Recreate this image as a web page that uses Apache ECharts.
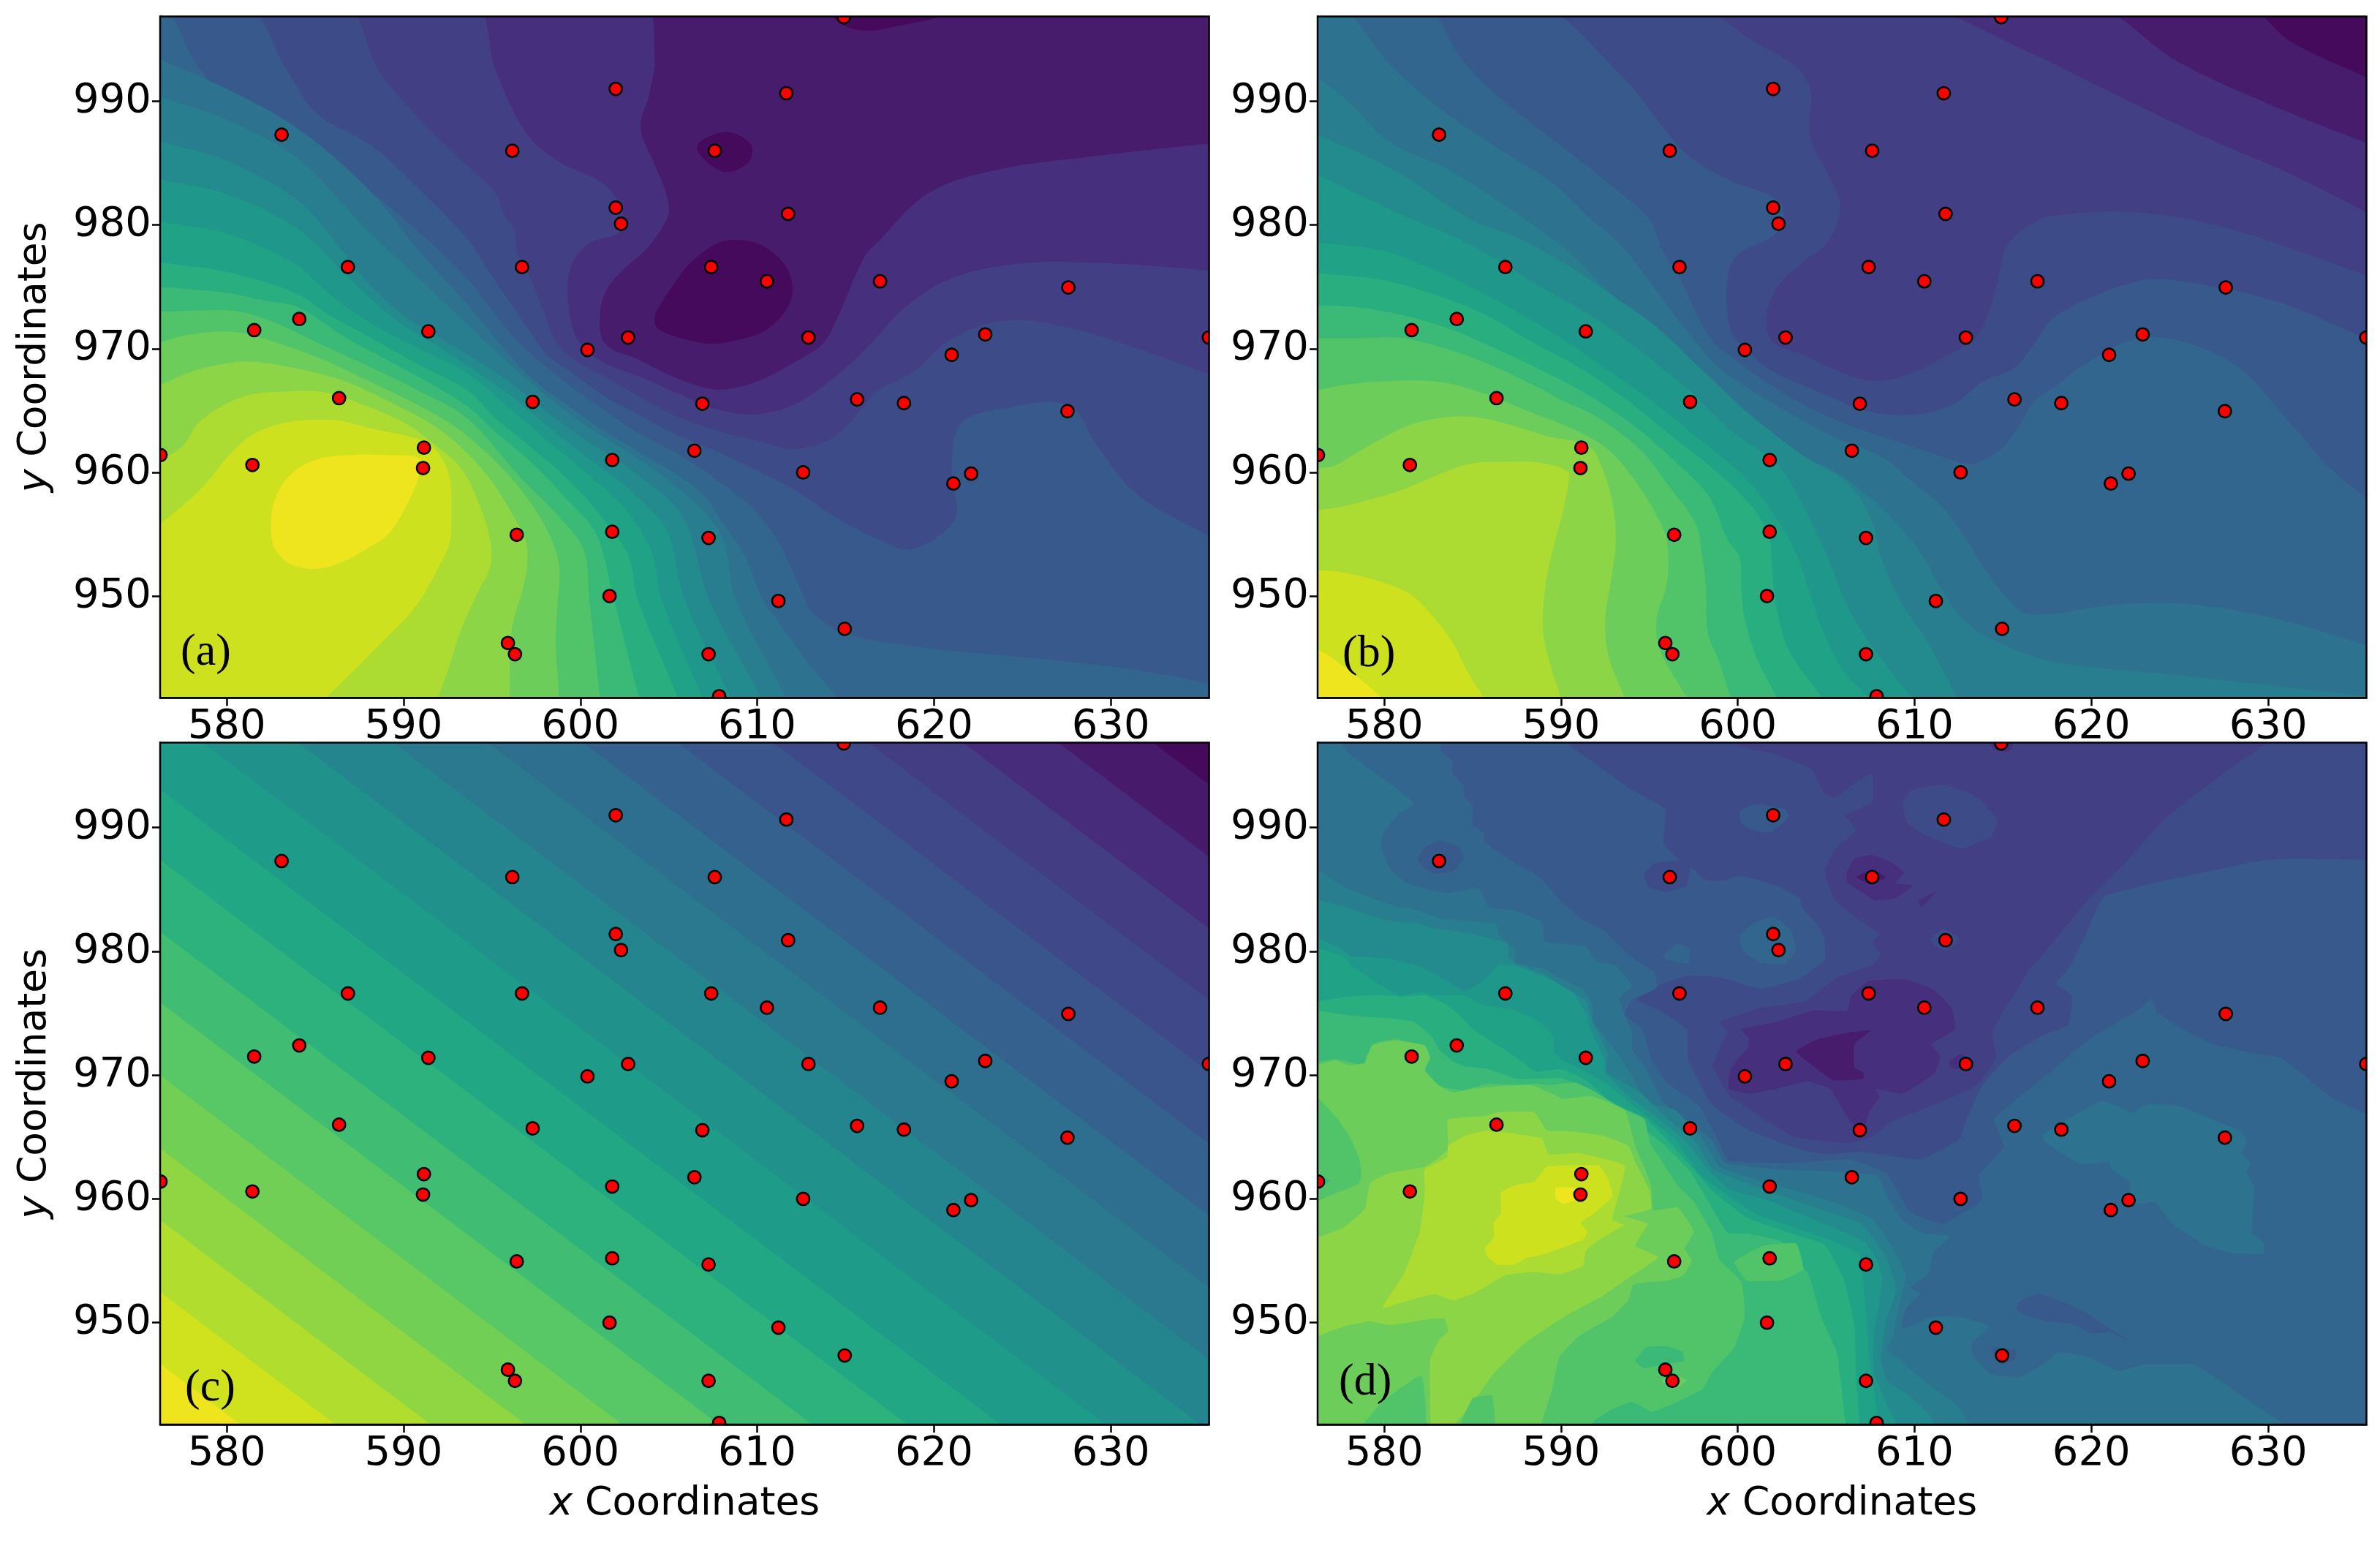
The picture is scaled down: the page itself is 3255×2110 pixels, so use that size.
<!DOCTYPE html>
<html><head><meta charset="utf-8"><style>html,body{margin:0;padding:0;background:#fff}#c{width:3255px;height:2110px}</style>
<script src="https://cdn.jsdelivr.net/npm/echarts@6/dist/echarts.min.js"></script></head>
<body><div id="c"></div><script>
const xTicks=[580,590,600,610,620,630];
const yTicks=[950,960,970,980,990];
const xRange=[576.23,635.56];
const yRange=[941.77,996.86];
const stationX=[614.9,602,611.65,583.1,596.15,607.6,602,611.75,602.3,586.85,596.7,607.4,610.55,616.95,627.6,584.1,581.55,591.4,622.9,612.9,602.7,635.55,600.4,621,586.35,597.3,606.9,615.65,618.3,627.55,591.15,606.45,576.25,601.8,581.45,591.1,612.6,622.1,621.1,596.4,601.8,607.25,601.65,611.2,614.95,595.9,596.3,607.25,607.85];
const stationY=[996.8,991,990.65,987.3,986,986,981.4,980.9,980.1,976.6,976.6,976.6,975.45,975.45,974.95,972.4,971.5,971.4,971.15,970.9,970.9,970.9,969.9,969.5,966,965.7,965.55,965.9,965.6,964.95,962,961.75,961.4,961,960.6,960.35,960,959.9,959.1,954.95,955.2,954.7,950,949.6,947.35,946.2,945.3,945.3,941.9];

// Contour regions: [band index, closing corners, x,y,x,y...]
const panelA=[
[1,'TL TR BR BL',[]],
[2,'BR BL TL',[603.4,998,604.2,993.6,603.9,990.6,603.4,987.9,604.2,984.9,604.8,982.8,605,981.1,604.6,979.7,603.7,978,602.5,976.5,601.5,974.8,601.1,972.7,601.4,970.4,603.3,969.1,605.5,967.6,607.7,966.7,609.9,967.3,612.1,968.9,613.7,970.4,614.6,972.7,615.4,975.4,616.1,977.5,616.8,978.6,619.7,982.6,623.7,984.5,629.3,985.6,635.6,986.6,637,986.9]],
[3,'BR BL TL',[593.8,998,595.2,992.5,596.9,987.5,598.7,985.2,600.9,983.7,601.7,982.8,602.4,981,602.2,979.4,600.6,978.6,599.7,977.3,599.3,975.6,599.3,974,599.5,972,600,970.4,601.3,968.9,603.25,967.8,605.5,966.4,607.7,965.1,609.9,964.7,612.1,965.5,614.3,967.6,615.8,969.5,616.8,971,618.4,973.4,621,975.7,625,976.9,629.8,976.9,635.6,976.3,637,976]],
[4,'BR BL TL',[586.5,998,588.6,992.5,590.8,988.7,593,985.6,595.2,982.6,595.6,981.1,596.3,979.4,596.4,978,597.2,975.6,597.9,973.1,598.7,970.4,599.85,968.9,601.3,967.8,603.25,966.2,605.5,964.5,607.7,963.4,609.9,962.6,612.1,961.9,614,962.6,615.1,963.8,616,965.3,616.8,966.6,618.8,968.1,621,970.8,624.1,972.3,627.6,971.7,631.1,970.2,635.6,967.9,637,967]],
[5,'BR BL TL',[581,998,583.4,992.5,585.1,989,588.2,986.4,590.8,983,593.65,978.8,594.7,976.5,595.7,974.4,597.05,971.6,598.1,969.5,599.6,968,601.3,966.2,603.25,964.7,605.5,963,607.7,961.7,609.9,960.2,612.1,958.6,614.3,956.5,616.8,954.6,618.8,953.8,621.2,956.3,621,960.1,621.5,963.9,624.1,965.2,627.6,965.4,629.3,962,631.5,958.2,635.6,954.8,637,953.6]],
[6,'BR BL TL',[576.3,998,578.2,993.2,580.3,989.8,583.8,986.4,587.8,983,590.8,979.5,593.65,975.6,595.1,972.9,596.6,970.4,598.1,968.5,599.6,966.8,601.3,965.1,603.25,963.2,605.5,961.5,607.7,959.4,609.6,957.3,611.1,954.6,612,952,612.7,949.7,613.1,948.7,614.9,947,619.7,945.8,626.3,944.9,632,943.9,635.6,942.9,637,942.5]],
[7,'BL',[575.2,994.1,576.2,993.4,580,991,584,987.8,588,982.9,591,977.7,593.65,973.5,595.1,971,596.6,968.5,598.1,966.6,599.6,965.1,601.3,963.4,603.25,961.7,605.5,959.8,607,958.1,608.1,955.8,609.3,953.3,610.3,949.7,611.2,947.9,612.7,944.9,614.5,941.8,615.5,940]],
[8,'BL',[575.2,991,576.2,990.4,580,988.5,584,985.4,588,979.5,591,975.5,593.65,971.9,595.9,968.9,598.1,966.2,600.3,963.8,603.25,961.1,606.2,957.9,608,954.8,608.8,949.7,611.6,941.8,612,940]],
[9,'BL',[575.2,987.4,576.2,986.8,580,985.2,584,982,586.5,978,588.2,975,590.3,972.4,593.2,969.9,595.9,967.4,598.1,964.9,600.3,962.6,603.25,959.8,605.8,956.4,607.3,949.7,610.2,941.8,610.6,940]],
[10,'BL',[575.2,984.2,576.2,983.7,580,982.5,584,979.7,587,975.6,589.5,972.4,592.5,969.7,595.9,966.4,598.1,963.8,600.3,961.3,602.8,958.6,604.9,955.2,605.9,949.7,608.5,941.8,609,940]],
[11,'BL',[575.2,980.7,576.2,980.3,580,979.3,583.8,976.9,585.7,974.55,588,972.2,591,969.9,593.65,968,595.9,965.3,598.1,962.6,600.3,960,602.5,957.1,604,953.7,604.6,949.7,606.9,941.8,607.3,940]],
[12,'BL',[575.2,977.3,576.2,977,580,976.2,583.8,974.55,585.8,972.7,588,971,591,968.6,593.65,966.6,595.1,964.5,597.3,961.9,599.6,959,601.3,956.2,602.7,953.3,603.25,949.7,605.5,941.8,605.9,940]],
[13,'BL',[575.2,975.2,576.2,975,579.8,974.55,582.1,973.9,584.1,973.3,586.6,971,588.8,969.3,591,967.6,593.65,965.3,595.1,963.4,597.3,960.7,599.3,957.7,600.9,955,601.9,949.7,603.3,941.8,603.6,940]],
[14,'BL',[575.2,973.1,576.2,973,578.4,973.1,580.7,973,582.9,972,585.1,970.5,588,968.6,591,966.5,593.65,964.3,596.6,959.6,598.8,956.4,600.2,953.7,600.5,949.7,601.1,941.8,601.2,940]],
[15,'BL',[575.2,970.2,576.2,970.5,577.7,971.1,579.9,971.4,581.4,971.1,583.6,970.1,585.8,968.9,588,967.4,591,965.3,593.2,963.4,595.4,960.6,596.9,958.1,598.2,955.1,598.8,952.4,598.7,949.2,598.6,946.1,598.8,941.8,598.8,940]],
[16,'BL',[575.3,966.8,576.2,967.05,577.7,968,579.2,968.6,581.1,968.96,583.6,968.5,586.6,967.4,589.5,965.5,591.7,963.8,593.2,962.1,594.7,959.8,596,957,596.9,954.5,597,952.8,596.8,950.9,596.1,947.1,596,941.9,596,940.5]],
[17,'BL',[575.3,960.4,576.2,961,577.5,962.1,578.4,964,579.9,965.5,581.4,966.3,582.9,966.5,585.4,966.5,588,965.3,590.3,963.8,591.7,962.3,593.2,960.4,594.2,957.7,594.9,954.5,594.9,952.4,594.2,950.3,593.2,947.1,592.6,944.4,592,941.9,591.7,940.5]],
[18,'BL',[575.3,954.6,576.2,955.8,577.1,956.8,578.7,958.9,580.2,961.5,581.4,963,582.7,963.8,584.2,964.2,586.3,964.2,588,963.6,591,962.6,591.9,961.7,592.6,959.6,592.7,956.6,592.6,954.3,592,952.4,590.7,949.2,588.8,946.3,587.2,944,585.7,941.9,584.9,940.6]],
[19,'',[582.5,955.6,582.7,957.7,583.6,959.8,585.1,961.05,586.9,961.4,588.8,961.4,591,961.05,590.8,959.4,590.3,957.7,589.2,955.1,588,953.9,586.6,952.8,585.1,952.2,583.6,952.6,582.7,953.9]],
[0,'',[613.9,998,614.7,996.3,616.2,995.7,618,996.1,620.4,996.9,621.5,998]],
[0,'',[606.6,986.4,607.5,987.3,608.5,987.5,609.6,986.6,609.7,985.6,609.2,984.7,608.1,984.3,607,985.3]],
[0,'',[604.2,972.5,604.6,973.75,605.5,975.65,606.2,976.9,607.7,978.5,608.9,978.8,610.2,978.4,611.5,976.9,612,975,611.7,973.3,610.6,971.6,609.2,970.8,607.4,970.4,605.8,970.8,604.4,971.6]]
];

const panelB=[
[0,'TL TR BR BL',[]],
[1,'BR BL TL',[628.3,998,631.3,994.8,635.6,991.9,637,991]],
[2,'BR BL TL',[619.5,998,624.9,993.2,630,989.8,635.6,986.6,637,985.8]],
[3,'BR BL TL',[609.5,998,616.4,994,620.7,991,625.8,987.5,631.3,984.1,635.6,981,637,980]],
[4,'BR BL TL',[596.9,998.5,600.7,995,603.2,992.9,604.1,991,604.1,987.1,605.1,984.1,605.8,981.4,605.1,978.7,603.7,977,602.5,975.5,601.8,973.7,601.6,972,602,970.5,603.7,969.5,606,968,607.8,967.4,609.8,968,611.9,969.5,613.5,971,614.2,973,614.7,975.5,615.2,978.2,616.2,979.7,617.7,980.7,622.8,981,628.3,979.5,635.6,975.9,637,975.2]],
[5,'BR BL TL',[588,998.5,593.4,992.1,596,987.5,597.2,985.6,599.4,983.7,602.4,981.8,602.3,979.5,599.9,977.5,599.4,975.5,599.4,973.2,599.7,971.2,600.6,969.75,601.8,968.3,604.6,966.5,607.2,965,609.8,964.65,612.2,965.5,613.8,967.3,615.7,968.5,616.8,970.5,618,972.7,622.8,975.5,625.8,975.3,630.5,973.8,635.6,970.8,637,970]],
[6,'BR BL TL',[581.8,998.5,584.5,993.2,586.6,990.2,590,986.4,593,983,595,980.45,595.7,978,596.8,975.5,597.6,973,598.5,970.75,599.7,969.25,601.1,967.8,603.7,965.5,606.3,963.8,608.9,962.55,611.5,961.3,613.3,960.7,614.8,961.8,615.7,963.3,616.8,965.8,618,967,619.8,968.9,623.2,970.95,627.9,968.9,631.3,963.9,633.4,960.5,635.6,957.8,637,956]],
[7,'BR BL TL',[577,998.5,580.2,993.2,582.8,989.8,586.2,986.4,589.6,983.3,591.7,980.45,593.3,978.5,594.7,976,596,973.5,597.5,970.75,598.9,968.5,600.6,966.8,602.9,964.8,605.5,962.8,608.1,961.3,609.8,959.3,611.5,957.3,612.9,954.6,614.1,951.9,615.4,949.6,616.2,948.6,618,948.6,620.7,949.2,624.9,949.4,630,948.3,635.6,946,637,945.4]],
[8,'BR BL',[575.2,992.5,576.2,991.9,578.1,989.8,580.2,986.8,583.6,984.5,586.6,981.8,589.6,978.8,590.7,977.5,592.4,975,594.2,972.75,595.9,970,597.6,967.5,599.4,965.5,601.5,963.3,603.7,961.3,605.5,960.05,607.2,958.3,608.9,956,610.3,953.6,611.5,950.6,612.9,947.9,615,946.1,618,944.65,624.9,943.6,631.3,942.6,635.6,941.9,637,941.5]],
[9,'BL',[575.2,987.8,576.2,987.3,580.5,984.5,584.9,980.45,587.5,979,590.1,977,592.7,974.5,595.4,971.75,598,968.25,600.6,964.8,603.5,961.55,606.3,959,607.7,955.6,608.1,953.1,609.3,949.35,610.7,946.4,612.4,941.8,613,940.5]],
[10,'BL',[575.2,984.6,576.2,984.1,578.8,982.3,581.6,980.45,584,979,586.6,977,589.2,974.7,591.9,972.5,594.5,969.8,597.1,966.8,599.7,963.3,602.3,960.55,603.7,957.3,605.1,953.1,606.15,949.35,607.5,946.1,609.8,941.8,610.4,940.5]],
[11,'BL',[575.2,978.9,576.2,978.6,579.7,978,582.3,976.7,584.9,975,587.5,973,590.1,970.75,592.7,968.25,595.4,965.5,598,962.5,600.6,959.3,602.5,955.6,603.4,953.1,604.1,950.1,604.9,946.9,606,943.9,607.4,941.8,608,940.5]],
[12,'BL',[575.2,976.3,576.2,976.1,579.7,975.6,583.2,974.2,585.8,972.7,588.4,970.5,591,968.5,593.6,966,596.2,963,598.8,960.05,600.9,957.05,601.8,954.6,601.9,953.1,602.15,949.35,602.9,945.6,604.75,941.8,605.3,940.5]],
[13,'BL',[575.2,973.5,576.2,973.5,578.5,973.35,581.1,972.7,583.7,971.6,586.3,970,588.9,968.25,591.5,966.3,594.1,963.8,596.7,960.55,598.4,958,599.4,954.6,600.1,953.1,600.2,950.6,600.4,948.1,601.1,944.9,602.2,941.8,602.7,940.5]],
[14,'BL',[575.2,970.85,576.2,970.85,578.5,970.85,581,970.85,583.5,970,586,968.7,588.5,967,590.1,965.8,592,964.5,594.5,961.8,596.2,958.7,597.6,955.9,598,953.1,598.2,950.6,598.3,947,598.9,944.9,599.6,941.8,600,940.5]],
[15,'BL',[575.2,966.6,576.2,966.65,577.9,967.1,580.5,967.4,583.2,967.3,585.4,966.5,588.4,964.8,591,963.3,592.7,961.8,594.2,959.3,595.6,956,596,954.3,596,951.1,595.4,948.1,595.6,945.6,597.1,941.8,597.5,940.5]],
[16,'BL',[575.2,960,576.2,960.3,577.2,960.55,578.4,961.55,580.2,963,581.4,963.8,583.2,964.4,584.9,964.5,587,963.9,589.3,962.9,591.5,962.2,592.2,960.8,592.9,957.6,593.1,954.6,592.9,951.85,592.5,948.1,592.7,945.1,593.6,941.8,594,940.5]],
[17,'BL',[575.2,956.8,576.2,956.95,577.5,957.2,579.7,958,581.4,958.8,583.2,959.9,584.9,960.7,586.6,960.85,588.7,960.8,590.4,960.05,590.4,959.05,590.1,956.8,589.6,954.1,589.2,951.6,589,949.1,589,946.9,589.4,944.4,590,941.8,590.3,940.5]],
[18,'BL',[575.2,952.1,576.2,952.1,577.9,951.85,579.7,951.2,581.4,950.2,582.6,948.6,583.8,946.4,584.7,943.9,585.6,941.8,586,940.5]],
[19,'BL',[575,944.8,576.2,945.6,577.6,944.4,578.8,943.1,579.8,941.8,580.5,940.5]]
];

const lineLeftY=[1064.2,1058.4,1052.6,1046.8,1041,1035.2,1029.4,1023.6,1017.8,1012,1006.2,999.8,994.1,988.3,982.6,976.7,970.8,965,959.2,953.4];
const lineRightY=[986.5,980.7,974.9,969.1,963.3,957.5,951.7,945.9,940.1,934.3,928.5,922.1,916.4,910.6,904.9,899,893.1,887.3,881.5,875.6];

const panelD=[
[3,'TL TR BR BL',[]],
[4,'TR BR BL TL',[599.6,998,600.1,996.6,602.2,995.9,604.2,994.7,604.9,992.8,605.5,992.4,606.5,993.5,607.6,994.3,607.6,992,606.1,991,606.7,989.8,605.6,988.4,604.9,986.5,605.5,984.1,607,982.4,608,981.4,607.6,980.7,608.1,979.7,607.6,978.9,605.5,977.8,603.9,976,601.2,975.4,599,974.3,599.4,973.5,598.6,970.8,599.5,968.4,600.7,967.2,603.2,965,606.2,964.5,607.6,965,608.6,966.2,611.3,967.7,613.5,969.15,614.6,971.4,614.4,973.4,615,975.1,615.9,977.1,616.5,978.6,617,979.3,617.7,980.5,619.9,984.3,622,987.3,624.1,990.6,627.1,994,630,996.9,631.1,998]],
[5,'BR BL TL',[590,998,590.5,996.64,591.9,995.2,593.85,993.2,595.9,991.45,595.8,988.7,596.7,987.35,597.6,986.5,598.1,985.8,599,985.7,600.2,986.1,602.2,985.3,603.5,984.3,603.7,983.4,604.5,982.2,604.9,981,604.9,979.3,603.5,977.8,601.3,977,599,977.9,597.1,978,595.3,977.1,594.3,976.1,595.6,975.2,597.1,973.7,597.2,971.3,598.5,967.7,600.7,965.5,603.5,964,604.9,963.6,607.1,963.8,610.4,963.2,612.6,964.9,612.8,965.9,613.8,969.15,615.4,971.6,617.1,973.1,618.7,974.1,618.9,976.4,618,977.4,618.7,978.6,619.6,981.1,620.7,984.4,624.1,985.7,630,987.4,635.6,987.4,637,987.4]],
[6,'BR BL TL',[583.2,998,583.2,996.15,583.85,995.4,583.85,994.4,584.5,993.4,584.5,992.5,585,991.8,585,990.2,585.65,989.55,585.65,988.9,587.2,987.3,588.6,986.2,589.4,985.1,590,984,591.2,982.6,592.5,981.6,594.1,979.4,595.3,978.3,595.4,977,594,976.1,593.6,974.9,594.6,973.7,595.1,971.3,596,969.4,597.8,967.5,598.8,965,599.5,963.1,602.9,962.9,606.2,963.2,608.4,962.1,609.6,959.2,610.2,958.6,611.6,958,613.8,959.9,613.65,961.9,615.05,964.2,614.5,966.4,617.1,969.6,619.9,972.9,622.8,975.4,623.4,976.2,623.7,975.1,624.96,973.9,626.7,972.6,628.96,971.8,630.7,971.4,631.9,970.1,633.65,968.15,635.6,966.8,637,966]],
[7,'BL TL',[577.6,998,577.6,996.85,578,996,579.5,994.4,581.65,992,580.75,991,579.9,989.45,579.85,988.3,580.3,986.7,581.3,985.5,582.7,984.9,583.65,984.7,585.3,985.1,585.7,984.1,586,983.5,587.2,983.35,588.9,982.4,589.1,980.8,591.4,980.4,592.05,979.2,593.15,978.8,594,977.2,593.3,976.25,593.6,974.8,594,973.5,594,972.1,594.8,970.5,595.8,967.8,598.5,964.8,599.3,962.9,602,962.4,605.4,962.2,607.9,961.9,608.44,960.2,609.3,958.3,610.5,957.2,612,957,611.05,955.6,610.8,954,609.8,952.85,610.3,952.35,609.5,951.1,609.3,949.5,611.05,950.5,612.4,950.5,614.2,949.75,613.2,948.25,613.3,947.25,614.35,945.8,615.9,945.6,617.65,947,618.1,947.6,619.75,947.25,621.5,946.1,622.9,946.6,625.8,946.6,627.6,945,629.3,943.3,630.9,941.8,631.6,940.5]],
[8,'BL',[575,986.8,576.35,986.5,577.6,985.3,579,984.5,580.3,983.8,581.7,983.35,583.1,982.7,585,982.4,586.3,982.2,586.55,981.2,587.4,980.2,587.4,979.1,589,978.6,590,977.8,591.2,977,591.8,975.65,591.8,974.3,592.6,972.9,593.4,971.3,594.1,969.75,594.8,967.8,596.45,967.2,598,964.8,599,962.6,600.8,961.7,603.7,960.5,605.9,959.5,607.7,958.3,609.1,955.2,609.5,953.7,609.1,951.2,608.8,949,608.44,947.8,608.96,947.25,610.35,945.5,612.4,943.3,613.1,941.8,613.6,940.5]],
[9,'BL',[575,984.4,576.35,984.1,577.6,983.7,579,983,580.3,982.5,581.7,982.3,583.1,981.8,585,981.4,586.1,981,587,980.6,587,979.6,587.4,979,589,978.2,590.3,977,591.4,976,591.8,974.3,592.6,971.9,592.6,970.2,594.5,968.6,596,966.5,597.5,964.8,598.6,962.4,601,961,603,960,605,959,607,958,608.44,955.2,608.8,953.7,608.96,952.75,608.8,951.7,608.4,950.2,608.1,947,608.44,945.3,609.5,944.3,610.7,942.8,611.1,941.8,611.4,940.5]],
[10,'BL',[575,981.2,576.35,981,577.6,980.2,578.1,979.6,579,979.6,580.3,979.4,582,978.8,583.1,978,584.5,976.8,585.6,977.6,586.5,978.9,587.5,978.8,589.3,977.8,590.7,976.6,591.5,974.7,591.6,973.9,592.5,971.1,592.5,970.2,594.1,968,595.5,966.5,596.95,964.8,598.3,962.4,599.5,960.8,601.5,960,603.5,958.8,605.7,957.5,607.2,956.5,607.9,955,608.2,953.6,608,951.5,607.7,949,607.7,946,608.44,943.3,609,941.8,609.2,940.5]],
[11,'BL',[575,980.4,576.35,980.2,577.6,979.6,578.3,978.7,579.65,977.4,580.9,976.4,582,976.75,582.8,976.45,584.5,976.45,585.6,975.7,587.2,975.3,588.6,974.5,589.6,973.1,589.6,971.9,590,971.3,591.4,970.3,592.7,969.2,593.7,968,595,966.5,596.45,964.8,597.8,962.1,599.1,960.6,601,958.8,603,957.8,605,956.8,606.9,955.5,607.2,951.8,607.4,947.6,608,941.8,608.1,940.5]],
[12,'BL',[575,976,576.35,976,577.9,976.35,579.65,976.45,581,976.35,582.3,976.45,583.4,975.8,584.2,974.9,585,973.7,586.1,972.7,587.2,971.7,588.6,970.3,590,970.5,591.4,969.6,592.7,968,594.8,966.5,596,964.8,597.5,962.4,598.6,960.6,600.5,958.5,603,957.2,604.9,956.3,606,953.5,606.6,949.7,606.7,945.5,606.9,941.8,607,940.5]],
[13,'BL',[575,975.3,576.35,975.2,577.6,974.9,579,974.7,580.3,974.6,581.7,974.3,582.7,973.1,583.1,972.1,583.9,971.1,584.6,970.7,585.85,970.5,587.5,969.7,590,969.75,591.4,969,592.3,967.6,594.2,966,595.5,964.8,597.2,962.4,598,960.6,599.4,957.3,600.5,957.2,602.4,956.6,604,953.9,604.7,950.5,605.6,947.6,606.1,941.8,606.2,940.5]],
[14,'BL',[575,971,576.35,971.1,577.3,971.3,578.9,970.8,578.96,971.5,579.5,972.6,580.75,972.9,582,972.3,582.55,971.5,582.4,970.9,581.85,970.3,582.7,969.4,583.4,969,584.5,968.8,585.85,969.3,587.6,969.2,588.6,969.3,589.4,969.2,590.8,969.4,592,968.6,593.3,967.4,594.7,966.5,595.05,964.5,596.6,961.1,597.5,959.8,598.5,957.3,598.8,955.8,599,955,600.2,953.3,600.4,950.5,599.8,948,598.5,945.9,598,944.6,595.2,942.8,594,943.6,592.9,943,591.9,942.1,591.3,940.5]],
[15,'BL',[575,970.6,576.2,970.8,577.2,971.2,578,970.8,578.9,971,579.3,972.4,580.6,972.8,582.3,972.4,582.6,971.4,582.3,970.4,583.15,969.1,583.9,968.6,585,968.9,586.5,969.1,588.3,969.2,589.5,968.5,590.1,968.1,591.7,968.3,593.6,967.2,594.2,964.3,595.1,961.1,595.2,959.1,596.6,959.3,597.5,957.4,597,956,597.4,955,596.9,953.8,596,953.4,594.1,953.1,593.8,951.8,592.9,950.5,591,948.9,589.9,947.2,589.5,944.6,588.9,941.9,588.7,940.5]],
[14,'',[575,968.2,576.2,968.2,577.4,966.4,578.1,964.9,578.6,963.2,578.7,962.1,578.6,961.3,577.7,960.7,576.9,960.25,576.2,959.8,575,959.6]],
[14,'',[578.2,940.5,579.9,943.6,582.1,945.7,582.3,940.5]],
[13,'',[575.5,962.3,576.2,962,576.95,961.5,576.3,960.8,575.5,960.6]],
[16,'',[575,957,576.2,956.9,577.7,957.7,578.9,959.2,579.2,961.3,580.3,962.1,582.3,962.6,583.6,964,583.6,966.4,585.65,966.7,586.5,967,588.5,967,589.2,965.5,590.2,965.5,592.4,965.1,593.8,964.3,594.2,963,595,960.7,595.1,959.2,593.6,958.6,594.9,958,594.2,956.2,595.5,955.3,593.9,953.7,592.4,952.2,590.2,950.5,588,948.4,586.2,945.9,584.8,943.1,584,941.8,583.9,940.5,582.7,940.5,582.6,947,583.1,948.6,583.6,949.3,583.4,950.3,582.55,950.3,580.3,949.8,579.2,950.1,577.7,949.7,576.2,948.9,575,948.6]],
[14,'',[584,940.5,585,943.9,586.1,944.1,586.25,940.5]],
[17,'',[579.9,951.2,581.1,953.9,582,957.3,582.3,960.5,582.3,962.4,583.6,963.4,583.6,964.3,584.6,965.1,585.8,965.5,588.9,964.9,589.3,963.6,591,963.7,593.6,962.7,593.3,960.5,592.9,958.3,593.55,957.9,592.15,956.7,591.4,955.8,591.25,954.6,589.9,953.9,588.45,954.1,586.8,953.8,585.1,952.4,583.9,951.8,582.85,952.3,581.4,951.8]],
[18,'',[585.7,956,586.2,956.9,586.2,958.1,586.6,958.8,586.6,960.5,587.4,961.1,588.5,961.4,589.2,962.6,591,962.7,592.15,962.7,592.7,961.5,592.9,960.2,591.85,958.8,591.1,958.1,591.5,957.3,591.25,956.7,589.2,955.6,588,955.2,587.4,954.7,586.4,954.7,585.8,955.4]],
[19,'',[589.7,960.9,590.8,960.9,591,960,590.1,959.6,589.7,960.05]],
[13,'',[594.2,946.9,594.8,948,596,948.1,596.9,947.6,596.95,946.9,596,946.7,594.7,946.3]],
[15,'',[595.7,945.3,596.3,945.9,597.1,945.3,596.35,944.6]],
[14,'',[599.8,954.9,601.4,956.2,603.3,956.4,603.7,954.3,602.4,953.4,600.5,953.4]],
[4,'',[594.7,986.3,595.3,987.1,596.7,987.35,597.3,987,597.1,985.3,595.9,984.8,594.9,985.3]],
[5,'',[581.9,987.5,582.4,988.5,583.2,988.9,584.2,988.5,584.5,987.5,583.9,986.5,582.8,986.3,582.1,986.9]],
[6,'',[600.1,981.2,600.8,982.2,602,982.8,603,981.7,603.3,980.2,602.7,979,601.3,979.1,600.3,980]],
[6,'',[595.8,979.7,596.6,980.6,597.3,980.2,597.2,979,596,979.3]],
[5,'',[600.1,991.3,601,991.9,602.7,991.45,602.9,990.85,601.85,989.6,600.8,989.8,600.2,990.4]],
[4,'',[609.3,991.8,609.8,993,611.6,993.5,613.5,992.5,614.7,990.6,614.3,989.2,612.6,988.3,610.6,989.4,609.6,990.4]],
[4,'',[610.9,981,611.6,981.8,612.6,981,611.8,980.1,611.1,980.5]],
[2,'',[606.15,986.3,606.6,987.5,607.6,987.8,608.8,987.1,609.4,986.3,608.9,985.5,609.9,985.3,608.9,984.3,607.75,984.1,607.2,984.6,606.2,985.5]],
[1,'',[606.7,986,607.6,986.6,608.35,986,607.6,985.4]],
[2,'',[610.2,984.1,611.2,984.8,610.4,983.6]],
[2,'',[613.9,998,614.5,996.3,615.3,996.15,616,998]],
[2,'',[600.2,973.7,602.2,974.3,604.2,975.2,606.2,975.2,606.4,976.4,607.4,977.6,609.6,977.7,611.1,976.9,612.1,975.4,612.3,973.7,610.95,972.5,611.45,971.5,611.1,970.1,609.3,968.5,607.8,968.9,608,968.2,607.4,967,607.1,965.5,606.4,966.2,605.2,968.9,603.9,969.5,602.2,968.9,600.7,968.5,599.5,968.9,599.6,970.5,600.6,972.3,600.6,973]],
[2,'',[611.96,971.1,612.6,971.7,613.4,971.1,613,970.5,612.05,970.6]],
[1,'',[603.3,971.9,604.5,972.9,606.1,973.4,607.5,973.6,606.6,972.5,606.6,970.6,607.1,970.2,607.1,969.7,605.4,969.6,604.2,970.8]],
[7,'',[617.3,965.2,618.35,966.2,620.6,967.9,622.35,967,623.2,967.65,624.96,967.5,626.9,966.4,628.4,965.5,628.8,964.7,628.5,963.7,629,962.9,628.8,962.2,629.2,960.9,629.1,957.2,629.75,956.5,629.75,955.6,628.1,955.6,626.5,956.2,624.6,958,623.6,959.7,622.2,959.6,622.2,961.4,621.1,962.4,621,963,619.4,962.8,617.3,964.7]],
[5,'',[615.75,951,615.9,951.7,617,952.35,618.35,951.7,619.75,950.75,621.1,949.5,622.2,948.5,621,949.25,620.1,949.1,618.9,949.9,617.5,950.1,616.3,950.6]],
[5,'',[614.5,948,615.75,947.75,615.65,947,614.9,946.6,614.4,947.5]]
];

const viridisStops=['#440154','#471365','#482475','#443983','#414487','#3b528b','#355f8d','#2f6c8e','#2a788e','#25848e','#21918c','#1e9c89','#22a884','#2fb47c','#44bf70','#5ec962','#7ad151','#9bd93c','#bddf26','#dfe318','#fde725'];
function viridis(t){
  const p=Math.min(t,0.9999)*20,i=Math.floor(p),f=p-i;
  const a=parseInt(viridisStops[i].slice(1),16),b=parseInt(viridisStops[i+1].slice(1),16);
  const ch=s=>Math.round(((a>>s)&255)*(1-f)+((b>>s)&255)*f);
  return 'rgb('+ch(16)+','+ch(8)+','+ch(0)+')';
}
const ring={TL:[570,1003],TR:[642,1003],BR:[642,936],BL:[570,936]};
function outline(flat,closing){
  const pts=[];
  for(let i=0;i<flat.length;i+=2)pts.push([flat[i],flat[i+1]]);
  if(closing)closing.split(' ').forEach(k=>pts.push(ring[k]));
  return pts;
}
const shapesC=[{fill:viridis(0.5/21),pts:outline([],'TL TR BR BL')}];
lineLeftY.forEach((y,k)=>shapesC.push({fill:viridis((k+1.5)/21),pts:[[570,y],[642,lineRightY[k]],[642,800],[570,800]]}));
const toShapes=list=>list.map(r=>({fill:viridis((r[0]+0.5)/20),pts:outline(r[2],r[1])}));
const layouts=[
 {name:'(a)',left:219,width:1434.6,top:22.5,height:931.8,shapes:toShapes(panelA),smooth:0.35,yName:true,xName:false,lx:247,ly:893},
 {name:'(b)',left:1802,width:1434.5,top:22.5,height:931.8,shapes:toShapes(panelB),smooth:0.35,yName:false,xName:false,lx:1836,ly:895},
 {name:'(c)',left:219,width:1434.6,top:1015.6,height:932.4,shapes:shapesC,smooth:0,yName:true,xName:true,lx:253,ly:1899},
 {name:'(d)',left:1802,width:1434.5,top:1015.6,height:932.4,shapes:toShapes(panelD),smooth:0.12,yName:false,xName:true,lx:1831,ly:1891}
];
const fam='"DejaVu Sans"';
const nameStyle={color:'#000',fontFamily:fam,fontSize:53.5,rich:{i:{fontFamily:fam,fontStyle:'italic',fontSize:53.5,color:'#000'}}};
const option={animation:false,backgroundColor:'#fff',grid:[],xAxis:[],yAxis:[],series:[],graphic:[]};
layouts.forEach((p,i)=>{
  option.grid.push({left:p.left,top:p.top,width:p.width,height:p.height,show:false});
  option.xAxis.push({type:'value',gridIndex:i,min:xRange[0],max:xRange[1],splitLine:{show:false},
    axisLine:{show:true,onZero:false,lineStyle:{color:'#000',width:2.5}},
    axisTick:{show:true,customValues:xTicks,length:11,lineStyle:{color:'#000',width:2.5}},
    axisLabel:{show:true,customValues:xTicks,fontFamily:fam,fontSize:56,color:'#000',margin:12},
    name:p.xName?'{i|x} Coordinates':'',nameLocation:'middle',nameGap:82,nameTextStyle:nameStyle});
  option.yAxis.push({type:'value',gridIndex:i,min:yRange[0],max:yRange[1],splitLine:{show:false},
    axisLine:{show:true,onZero:false,lineStyle:{color:'#000',width:2.5}},
    axisTick:{show:true,customValues:yTicks,length:11,lineStyle:{color:'#000',width:2.5}},
    axisLabel:{show:true,customValues:yTicks,fontFamily:fam,fontSize:56,color:'#000',margin:12},
    name:p.yName?'{i|y} Coordinates':'',nameLocation:'middle',nameGap:144,nameTextStyle:nameStyle});
  option.series.push({type:'custom',xAxisIndex:i,yAxisIndex:i,coordinateSystem:'cartesian2d',clip:true,silent:true,z:1,
    data:p.shapes.map((s,k)=>[xRange[0],yRange[0],k]),
    renderItem:(params,api)=>{
      const s=p.shapes[params.dataIndex];
      return {type:'polygon',shape:{points:s.pts.map(q=>api.coord(q)),smooth:p.smooth||undefined},style:{fill:s.fill,stroke:null}};
    }});
  option.series.push({type:'custom',xAxisIndex:i,yAxisIndex:i,coordinateSystem:'cartesian2d',clip:true,silent:true,z:5,
    data:stationX.map((x,k)=>[x,stationY[k]]),
    renderItem:(params,api)=>{
      const c=api.coord([api.value(0),api.value(1)]);
      return {type:'circle',shape:{cx:c[0],cy:c[1],r:8.6},style:{fill:'#ff0000',stroke:'#000',lineWidth:2.6}};
    }});
  option.graphic.push({type:'rect',z:50,silent:true,shape:{x:p.left,y:p.top,width:p.width,height:p.height},style:{fill:'none',stroke:'#000',lineWidth:2.5}});
  option.graphic.push({type:'text',z:60,silent:true,x:p.lx,y:p.ly,style:{text:p.name,font:'62px "Liberation Serif"',fill:'#000',verticalAlign:'middle'}});
});
echarts.init(document.getElementById('c'),null,{renderer:'canvas',width:3255,height:2110}).setOption(option);
</script></body></html>
